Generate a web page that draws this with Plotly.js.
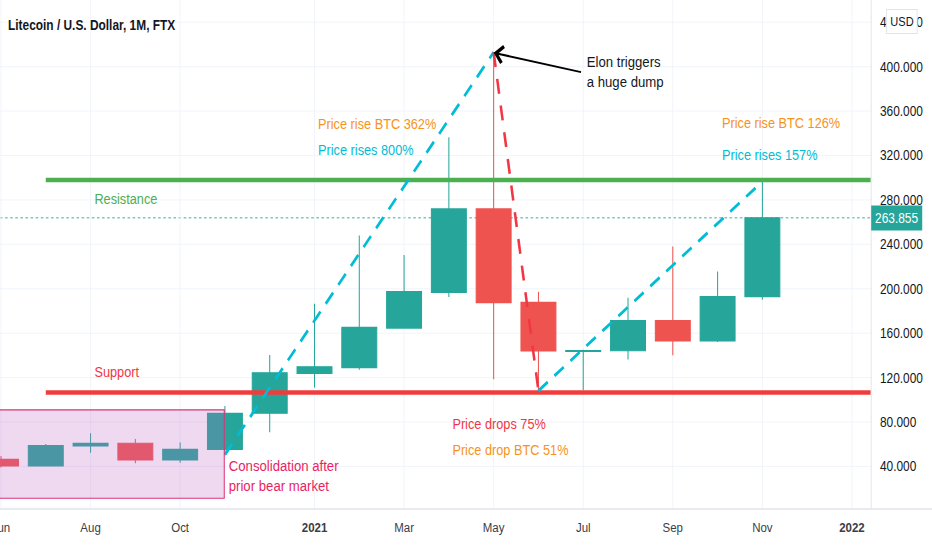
<!DOCTYPE html>
<html>
<head>
<meta charset="utf-8">
<script src="https://cdn.plot.ly/plotly-3.0.1.min.js"></script>
<style>
html,body{margin:0;padding:0;background:#fff;overflow:hidden;}
#wrap{width:932px;height:550px;overflow:hidden;position:relative;}
#chart{width:1096px;height:550px;transform:scaleX(0.85036);transform-origin:0 0;}
</style>
</head>
<body>
<div id="wrap"><div id="chart"></div></div>
<script>
// ---- data (monthly LTC/USD candles, Jun 2020 .. Nov 2021) ----
const months = ['2020-06','2020-07','2020-08','2020-09','2020-10','2020-11','2020-12',
                '2021-01','2021-02','2021-03','2021-04','2021-05','2021-06','2021-07',
                '2021-08','2021-09','2021-10','2021-11'];
const openP  = [46.4, 40.4, 58.5, 60.9, 45.8, 55.4, 87.9, 123.8, 129.0, 164.6, 196.8, 271.9, 187.8, 143.6, 144.2, 171.4, 153.0, 193.0];
const highP  = [49.4, 60.3, 69.9, 64.8, 61.5, 94.5, 140.3, 186.5, 248.0, 230.3, 336.5, 413.0, 197.2, 145.0, 192.0, 238.0, 215.5, 296.5];
const lowP   = [39.0, 40.0, 52.4, 42.8, 43.4, 50.5, 70.8, 111.0, 127.0, 164.0, 192.6, 118.5, 108.2, 108.6, 136.2, 140.1, 152.0, 190.2];
const closeP = [40.4, 58.8, 60.9, 45.8, 55.4, 87.9, 124.3, 129.8, 165.2, 197.5, 271.9, 187.5, 144.0, 144.4, 171.4, 153.0, 193.0, 263.855];
const lastPrice = 263.855;

// tick labels on the time axis (bar index -> label)
const tickIdx  = [0, 2, 4, 7, 9, 11, 13, 15, 17, 19];
const tickText = ['Jun','Aug','Oct','<b>2021</b>','Mar','May','Jul','Sep','Nov','<b>2022</b>'];

// drawn levels
const resistanceLevel = 298;
const supportLevel = 106.5;

// trend lines (bar index, price)
const rise1X = [5, 11];  const rise1Y = [50.5, 413.0];
const dropX  = [11, 12]; const dropY  = [413.0, 108.2];
const rise2X = [12, 17]; const rise2Y = [108.2, 296.5];

const barIdx = months.map((m, i) => i);

const FONT = "'Liberation Sans', Arial, sans-serif";
const TEAL = '#26a69a', RED = '#ef5350';

const traces = [
  {
    type: 'candlestick',
    x: barIdx, open: openP, high: highP, low: lowP, close: closeP,
    increasing: {line: {color: TEAL, width: 1.2}, fillcolor: TEAL},
    decreasing: {line: {color: RED, width: 1.2}, fillcolor: RED},
    whiskerwidth: 0,
    hoverinfo: 'skip',
    showlegend: false
  },
  {
    type: 'scatter', mode: 'lines', x: [1, 40], y: [resistanceLevel, resistanceLevel],
    line: {color: '#4caf50', width: 4.5}, hoverinfo: 'skip', showlegend: false
  },
  {
    type: 'scatter', mode: 'lines', x: [1, 40], y: [supportLevel, supportLevel],
    line: {color: '#f03c3c', width: 4.5}, hoverinfo: 'skip', showlegend: false
  },
  {
    type: 'scatter', mode: 'lines', x: rise1X, y: rise1Y,
    line: {color: '#00bcd4', width: 3, dash: '14px,10px'}, hoverinfo: 'skip', showlegend: false
  },
  {
    type: 'scatter', mode: 'lines', x: rise2X, y: rise2Y,
    line: {color: '#00bcd4', width: 3, dash: '14px,10px'}, hoverinfo: 'skip', showlegend: false
  },
  {
    type: 'scatter', mode: 'lines', x: dropX, y: dropY,
    line: {color: '#f23645', width: 3, dash: '15px,12px'}, hoverinfo: 'skip', showlegend: false
  }
];

function txt(x, y, text, color, extra) {
  return Object.assign({
    xref: 'x', yref: 'y', x: x, y: y, text: text, showarrow: false,
    xanchor: 'left', yanchor: 'middle', align: 'left',
    font: {family: FONT, size: 15, color: color}
  }, extra || {});
}

const annotations = [
  txt(7.05, 349.2, 'Price rise BTC 362%', '#f7931a'),
  txt(7.05, 325.8, 'Price rises 800%', '#00bcd4'),
  txt(2.05, 281.0, 'Resistance', '#4caf50'),
  txt(2.05, 125.4, 'Support', '#f23645'),
  txt(10.04, 78.3, 'Price drops 75%', '#f23645'),
  txt(10.04, 55.5, 'Price drop BTC 51%', '#f7931a'),
  txt(16.05, 349.7, 'Price rise BTC 126%', '#f7931a'),
  txt(16.05, 320.6, 'Price rises 157%', '#00bcd4'),
  txt(5.04, 31.5, 'Consolidation after<br>prior bear market', '#e91e63', {font: {family: FONT, size: 15.5, color: '#e91e63'}}),
  txt(13.04, 395.7, 'Elon triggers<br>a huge dump', '#131722', {font: {family: FONT, size: 15.5, color: '#131722'}}),
  // arrow
  {
    xref: 'x', yref: 'y', x: 11.0, y: 412.5, axref: 'x', ayref: 'y', ax: 12.98, ay: 394.8,
    text: '', showarrow: true, arrowhead: 4, arrowsize: 1.6, arrowwidth: 2, arrowcolor: '#000000',
    standoff: 0, startstandoff: 0
  },
  // last price badge
  {
    xref: 'paper', yref: 'y', x: 1, y: lastPrice, xanchor: 'left', yanchor: 'middle',
    text: lastPrice.toFixed(3), showarrow: false, bgcolor: TEAL, borderpad: 4,
    font: {family: FONT, size: 14, color: '#ffffff'}
  },
  // currency badge
  {
    xref: 'paper', yref: 'paper', x: 1.0356, y: 0.957, xanchor: 'center', yanchor: 'middle',
    text: 'USD', showarrow: false, bgcolor: '#ffffff', bordercolor: '#e0e3eb', borderwidth: 1, borderpad: 4,
    font: {family: FONT, size: 13, color: '#131722'}
  }
];

const shapes = [
  // consolidation box
  {
    type: 'rect', xref: 'x', yref: 'y', x0: -1, x1: 4.985, y0: 11.4, y1: 90.9,
    fillcolor: 'rgba(186,104,200,0.25)', line: {color: '#dc3278', width: 1.2}, layer: 'above'
  },
  // last price dotted line
  {
    type: 'line', xref: 'paper', yref: 'y', x0: 0, x1: 1, y0: lastPrice, y1: lastPrice,
    line: {color: TEAL, width: 1, dash: 'dot'}, layer: 'below'
  },
  // bottom separator across full width
  {
    type: 'line', xref: 'paper', yref: 'paper', x0: 0, x1: 1.08, y0: 0, y1: 0,
    line: {color: '#e0e3eb', width: 1.5}
  }
];

const layout = {
  width: 1096, height: 550,
  margin: {l: 0, r: 72, t: 0, b: 41, pad: 0},
  paper_bgcolor: '#ffffff', plot_bgcolor: '#ffffff',
  showlegend: false,
  boxgap: 0.22, boxgroupgap: 0,
  title: {
    text: 'Litecoin / U.S. Dollar, 1M, FTX',
    x: 8 / 871, xanchor: 'left', xref: 'paper',
    y: 1 - 25 / 550, yanchor: 'middle',
    font: {family: FONT, size: 14, color: '#131722', weight: 700}
  },
  xaxis: {
    type: 'linear',
    range: [-0.022, 19.42],
    tickvals: tickIdx, ticktext: tickText,
    showgrid: true, gridcolor: '#f0f3fa', gridwidth: 1,
    zeroline: false, showline: false, ticks: '',
    ticklabelstandoff: 9,
    ticklabeloverflow: 'allow',
    tickfont: {family: FONT, size: 13.5, color: '#3a3d46'},
    rangeslider: {visible: false},
    fixedrange: true
  },
  yaxis: {
    side: 'right',
    range: [1.7, 460],
    tick0: 0, dtick: 40, tickformat: '.3f',
    showgrid: true, gridcolor: '#f0f3fa', gridwidth: 1,
    zeroline: false, showline: true, linecolor: '#e0e3eb', linewidth: 1,
    ticks: '', ticklabelstandoff: 7,
    tickfont: {family: FONT, size: 14, color: '#131722'},
    fixedrange: true
  },
  annotations: annotations,
  shapes: shapes
};

Plotly.newPlot('chart', traces, layout, {staticPlot: true, displayModeBar: false});
</script>
</body>
</html>
